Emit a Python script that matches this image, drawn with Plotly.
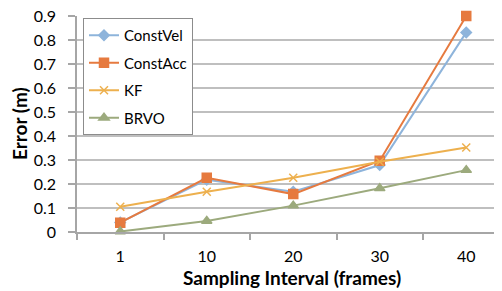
import plotly.graph_objects as go

categories = ["1", "10", "20", "30", "40"]
const_vel = [0.04, 0.218, 0.168, 0.279, 0.832]
const_acc = [0.039, 0.226, 0.158, 0.297, 0.90]
kf = [0.105, 0.168, 0.226, 0.293, 0.352]
brvo = [0.002, 0.046, 0.11, 0.182, 0.258]
y_ticks = [0, 0.1, 0.2, 0.3, 0.4, 0.5, 0.6, 0.7, 0.8, 0.9]
y_tick_text = ["0", "0.1", "0.2", "0.3", "0.4", "0.5", "0.6", "0.7", "0.8", "0.9"]

FONT = "Lato, 'Open Sans', sans-serif"
xs = list(range(len(categories)))

series = [
    ("ConstVel", const_vel, "#8EB4DB", "diamond", 8),
    ("ConstAcc", const_acc, "#E67A3F", "square", 9),
    ("KF", kf, "#EDB04E", "x-thin", 8),
    ("BRVO", brvo, "#9CAA7D", "triangle-up", 9),
]

fig = go.Figure()
for i, (name, vals, color, sym, size) in enumerate(series):
    fig.add_trace(go.Scatter(
        x=xs, y=vals, name=name, mode="lines+markers",
        line=dict(color=color, width=2),
        marker=dict(symbol=sym, size=size, color=color,
                    line=dict(color=color, width=1.5)),
        cliponaxis=False, legendgroup=f"g{i}",
    ))

# page has an 8px body margin; compensate so the plot lands where the reference is
OFF = 8
W, H = 502, 291
L, R, T, B = 77 - OFF, 0, 16 - OFF, 291 - (232 - OFF)
w_plot = W - L - R
h_plot = H - T - B
cat_px = 86.5
x_span = w_plot / cat_px


def px_x(p):
    return (p - OFF - L) / w_plot


def px_y(p):
    return (H - B - (p - OFF)) / h_plot


fig.update_layout(
    template="none",
    width=W, height=H,
    margin=dict(l=L, r=R, t=T, b=B, autoexpand=False),
    paper_bgcolor="white", plot_bgcolor="white",
    font=dict(family=FONT, size=16, color="#000000"),
    showlegend=True,
    legend=dict(
        x=px_x(83), y=px_y(18), xanchor="left", yanchor="top",
        bgcolor="white", bordercolor="#8C8C8C", borderwidth=1,
        font=dict(family=FONT, size=15, color="#000000"),
        tracegroupgap=5,
    ),
    xaxis=dict(
        range=[-0.5, -0.5 + x_span], automargin=False,
        tickmode="array", tickvals=xs, ticktext=categories,
        ticks="", showgrid=False, zeroline=False,
        showline=True, linecolor="#A6A6A6", linewidth=1.5,
        tickfont=dict(family=FONT, size=16),
        ticklabelstandoff=9,
        minor=dict(tick0=-0.5, dtick=1, ticks="outside", ticklen=6,
                   tickcolor="#A6A6A6", tickwidth=1.5, showgrid=False),
    ),
    yaxis=dict(
        range=[0, 0.9004], automargin=False,
        tickmode="array", tickvals=y_ticks, ticktext=y_tick_text,
        ticks="outside", ticklen=7, tickcolor="#A6A6A6", tickwidth=1.5,
        showgrid=True, gridcolor="#BFBFBF", gridwidth=1.5,
        zeroline=False,
        showline=True, linecolor="#A6A6A6", linewidth=1.5,
        tickfont=dict(family=FONT, size=16),
        ticklabelstandoff=9,
        ticklabeloverflow="allow",
    ),
    annotations=[
        dict(text="<b>Error (m)</b>", x=px_x(19), y=px_y(124),
             xref="paper", yref="paper", xanchor="center", yanchor="middle",
             showarrow=False, textangle=-90, font=dict(family=FONT, size=19)),
        dict(text="<b>Sampling Interval (frames)</b>", x=px_x(292), y=px_y(277),
             xref="paper", yref="paper", xanchor="center", yanchor="middle",
             showarrow=False, font=dict(family=FONT, size=19)),
    ],
)

fig.write_html("out.html")
